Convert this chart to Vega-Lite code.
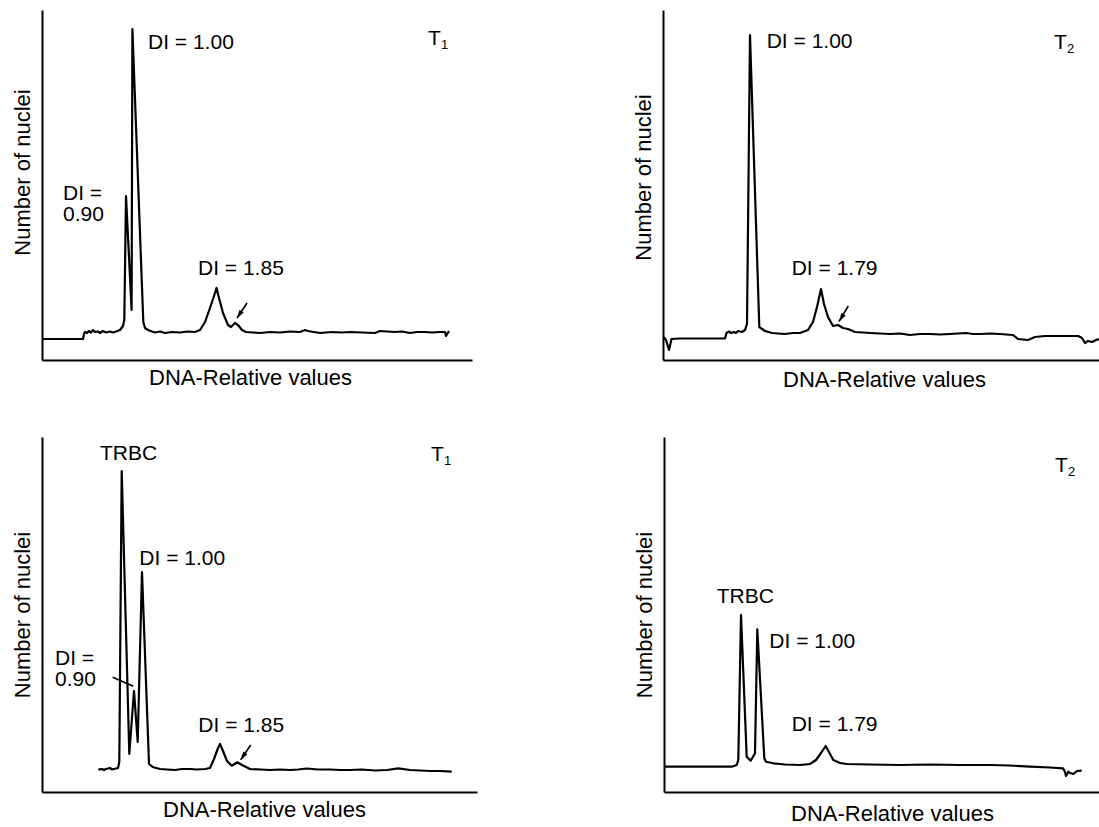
{
  "$schema": "https://vega.github.io/schema/vega-lite/v6.json",
  "padding": {"left": 11, "top": 10, "right": 0, "bottom": 0},
  "background": "white",
  "config": {
    "view": {"stroke": null},
    "axis": {
      "domain": true, "domainColor": "black", "domainWidth": 2,
      "ticks": false, "labels": false, "grid": false,
      "titleFont": "Liberation Sans", "titleFontSize": 22, "titleFontWeight": "normal", "titleColor": "black"
    },
    "axisX": {"titlePadding": 7},
    "axisY": {"titlePadding": 8},
    "text": {"font": "Liberation Sans", "color": "black"}
  },
  "datasets": {
    "trace": [
      {"p":"TL","x":0,"y":21},{"p":"TL","x":41,"y":21},{"p":"TL","x":42,"y":26},{"p":"TL","x":43,"y":28},{"p":"TL","x":45,"y":27},{"p":"TL","x":47,"y":29},{"p":"TL","x":49,"y":27.5},{"p":"TL","x":51,"y":30},{"p":"TL","x":53,"y":28},{"p":"TL","x":56,"y":28.5},{"p":"TL","x":58,"y":27},{"p":"TL","x":61,"y":29},{"p":"TL","x":64,"y":27.5},{"p":"TL","x":68,"y":28.5},{"p":"TL","x":71,"y":27.5},{"p":"TL","x":74,"y":28.5},{"p":"TL","x":78,"y":30},{"p":"TL","x":81,"y":34},{"p":"TL","x":82.3,"y":40},{"p":"TL","x":84,"y":164},{"p":"TL","x":89.6,"y":50},{"p":"TL","x":90.4,"y":331},{"p":"TL","x":101.3,"y":38},{"p":"TL","x":103,"y":32},{"p":"TL","x":106,"y":30},{"p":"TL","x":110,"y":28.5},{"p":"TL","x":113,"y":27.5},{"p":"TL","x":118,"y":28.5},{"p":"TL","x":123,"y":27},{"p":"TL","x":130,"y":28},{"p":"TL","x":138,"y":27.5},{"p":"TL","x":146,"y":28.5},{"p":"TL","x":153,"y":28},{"p":"TL","x":158,"y":30},{"p":"TL","x":163,"y":38},{"p":"TL","x":168,"y":52},{"p":"TL","x":172,"y":64},{"p":"TL","x":174.5,"y":72},{"p":"TL","x":177,"y":62},{"p":"TL","x":181,"y":47},{"p":"TL","x":186,"y":35},{"p":"TL","x":189,"y":33},{"p":"TL","x":193,"y":37},{"p":"TL","x":196,"y":35},{"p":"TL","x":200,"y":30},{"p":"TL","x":204,"y":28},{"p":"TL","x":211,"y":27.5},{"p":"TL","x":218,"y":27},{"p":"TL","x":228,"y":28},{"p":"TL","x":238,"y":27.5},{"p":"TL","x":248,"y":28.5},{"p":"TL","x":258,"y":28},{"p":"TL","x":263,"y":30},{"p":"TL","x":266,"y":29},{"p":"TL","x":272,"y":28},{"p":"TL","x":278,"y":27},{"p":"TL","x":290,"y":28},{"p":"TL","x":300,"y":27.5},{"p":"TL","x":308,"y":28},{"p":"TL","x":320,"y":27.5},{"p":"TL","x":333,"y":27},{"p":"TL","x":338,"y":29},{"p":"TL","x":345,"y":28.5},{"p":"TL","x":353,"y":28},{"p":"TL","x":360,"y":28.5},{"p":"TL","x":368,"y":27},{"p":"TL","x":375,"y":28},{"p":"TL","x":383,"y":28},{"p":"TL","x":390,"y":27.5},{"p":"TL","x":398,"y":28},{"p":"TL","x":403,"y":28},{"p":"TL","x":404,"y":24},{"p":"TL","x":407,"y":29},

      {"p":"TR","x":0.5,"y":23},{"p":"TR","x":3,"y":20},{"p":"TR","x":6,"y":10},{"p":"TR","x":8.5,"y":21},{"p":"TR","x":17,"y":21.5},{"p":"TR","x":62,"y":21.5},{"p":"TR","x":63.5,"y":27},{"p":"TR","x":66,"y":28.5},{"p":"TR","x":68,"y":27},{"p":"TR","x":71,"y":28},{"p":"TR","x":73,"y":27},{"p":"TR","x":75,"y":29},{"p":"TR","x":79,"y":28},{"p":"TR","x":82,"y":30},{"p":"TR","x":84,"y":36},{"p":"TR","x":87,"y":325},{"p":"TR","x":96.3,"y":33},{"p":"TR","x":102,"y":29},{"p":"TR","x":109,"y":27},{"p":"TR","x":115,"y":26.5},{"p":"TR","x":122,"y":26},{"p":"TR","x":130,"y":27},{"p":"TR","x":137,"y":27},{"p":"TR","x":145,"y":30},{"p":"TR","x":150,"y":38},{"p":"TR","x":154,"y":53},{"p":"TR","x":158,"y":71},{"p":"TR","x":161,"y":56},{"p":"TR","x":165,"y":43},{"p":"TR","x":170,"y":34},{"p":"TR","x":175,"y":35},{"p":"TR","x":180,"y":32},{"p":"TR","x":185,"y":31},{"p":"TR","x":192,"y":28},{"p":"TR","x":200,"y":27.5},{"p":"TR","x":207,"y":27},{"p":"TR","x":217,"y":26.5},{"p":"TR","x":227,"y":26},{"p":"TR","x":237,"y":26.5},{"p":"TR","x":247,"y":25},{"p":"TR","x":257,"y":26},{"p":"TR","x":267,"y":26},{"p":"TR","x":277,"y":25.5},{"p":"TR","x":287,"y":26},{"p":"TR","x":295,"y":26.5},{"p":"TR","x":303,"y":27},{"p":"TR","x":310,"y":26},{"p":"TR","x":317,"y":26},{"p":"TR","x":327,"y":26.5},{"p":"TR","x":337,"y":26},{"p":"TR","x":350,"y":25},{"p":"TR","x":355,"y":21},{"p":"TR","x":365,"y":20},{"p":"TR","x":372,"y":23},{"p":"TR","x":382,"y":24},{"p":"TR","x":397,"y":24},{"p":"TR","x":415,"y":24},{"p":"TR","x":419,"y":22},{"p":"TR","x":422,"y":17},{"p":"TR","x":425,"y":19},{"p":"TR","x":429,"y":18},{"p":"TR","x":433,"y":20},{"p":"TR","x":436,"y":21},

      {"p":"BL","x":56.3,"y":22.3},{"p":"BL","x":60,"y":23},{"p":"BL","x":62,"y":22},{"p":"BL","x":64,"y":23},{"p":"BL","x":68,"y":24},{"p":"BL","x":70,"y":22.5},{"p":"BL","x":72,"y":23},{"p":"BL","x":76,"y":24},{"p":"BL","x":77.3,"y":30},{"p":"BL","x":79.7,"y":321},{"p":"BL","x":87.3,"y":38},{"p":"BL","x":92,"y":101},{"p":"BL","x":95.7,"y":50},{"p":"BL","x":100,"y":220},{"p":"BL","x":107,"y":28},{"p":"BL","x":111.3,"y":24.7},{"p":"BL","x":118,"y":23},{"p":"BL","x":125,"y":22.5},{"p":"BL","x":133,"y":22},{"p":"BL","x":140,"y":23},{"p":"BL","x":148,"y":23},{"p":"BL","x":155,"y":22.5},{"p":"BL","x":163,"y":23},{"p":"BL","x":168,"y":24},{"p":"BL","x":172,"y":33},{"p":"BL","x":176,"y":44},{"p":"BL","x":178,"y":48},{"p":"BL","x":181,"y":41},{"p":"BL","x":185,"y":31},{"p":"BL","x":189.7,"y":26.3},{"p":"BL","x":195.3,"y":29.7},{"p":"BL","x":200,"y":27},{"p":"BL","x":208,"y":23},{"p":"BL","x":218,"y":22.5},{"p":"BL","x":228,"y":22},{"p":"BL","x":238,"y":22.5},{"p":"BL","x":248,"y":22},{"p":"BL","x":256,"y":22.5},{"p":"BL","x":264.7,"y":23.5},{"p":"BL","x":276,"y":22.5},{"p":"BL","x":288,"y":22.5},{"p":"BL","x":298,"y":22},{"p":"BL","x":308,"y":22},{"p":"BL","x":320,"y":22.5},{"p":"BL","x":333,"y":21.5},{"p":"BL","x":345,"y":22},{"p":"BL","x":356.3,"y":23.7},{"p":"BL","x":368,"y":22},{"p":"BL","x":378,"y":21.5},{"p":"BL","x":388,"y":21},{"p":"BL","x":398,"y":21},{"p":"BL","x":409.7,"y":20.3},

      {"p":"BR","x":1,"y":25.3},{"p":"BR","x":36,"y":25.3},{"p":"BR","x":67.7,"y":25.3},{"p":"BR","x":72.7,"y":27},{"p":"BR","x":74.3,"y":32},{"p":"BR","x":77,"y":177},{"p":"BR","x":82.7,"y":35.3},{"p":"BR","x":86.7,"y":31.3},{"p":"BR","x":91,"y":38.7},{"p":"BR","x":93.3,"y":162.7},{"p":"BR","x":100.3,"y":33.7},{"p":"BR","x":102,"y":30.3},{"p":"BR","x":109.3,"y":28.7},{"p":"BR","x":121,"y":27.5},{"p":"BR","x":136,"y":27},{"p":"BR","x":146,"y":28},{"p":"BR","x":152,"y":32},{"p":"BR","x":157,"y":39},{"p":"BR","x":161.7,"y":46},{"p":"BR","x":165,"y":40},{"p":"BR","x":169.3,"y":32},{"p":"BR","x":176,"y":29},{"p":"BR","x":182.7,"y":28},{"p":"BR","x":206,"y":27.5},{"p":"BR","x":236,"y":27},{"p":"BR","x":266,"y":27.5},{"p":"BR","x":296,"y":27},{"p":"BR","x":326,"y":27},{"p":"BR","x":346,"y":26.5},{"p":"BR","x":366,"y":25.3},{"p":"BR","x":386,"y":24.5},{"p":"BR","x":399,"y":23.7},{"p":"BR","x":401,"y":20},{"p":"BR","x":402,"y":16},{"p":"BR","x":404.3,"y":20.3},{"p":"BR","x":406,"y":19},{"p":"BR","x":409.3,"y":18},{"p":"BR","x":413,"y":21},{"p":"BR","x":417.7,"y":21.3}
    ],
    "labels": [
      {"p":"TL","x":106,"y":317,"t":"DI = 1.00"},
      {"p":"TL","x":386,"y":321,"t":"T"},
      {"p":"TL","x":21,"y":166,"t":["DI =", "0.90"]},
      {"p":"TL","x":156,"y":91,"t":"DI = 1.85"},
      {"p":"TR","x":103.7,"y":318,"t":"DI = 1.00"},
      {"p":"TR","x":391,"y":317,"t":"T"},
      {"p":"TR","x":128.7,"y":91.3,"t":"DI = 1.79"},
      {"p":"BL","x":58,"y":338,"t":"TRBC"},
      {"p":"BL","x":389,"y":337,"t":"T"},
      {"p":"BL","x":97.3,"y":233,"t":"DI = 1.00"},
      {"p":"BL","x":13,"y":133,"t":["DI =", "0.90"]},
      {"p":"BL","x":156.3,"y":66.3,"t":"DI = 1.85"},
      {"p":"BR","x":391,"y":326,"t":"T"},
      {"p":"BR","x":52.7,"y":195.3,"t":"TRBC"},
      {"p":"BR","x":105.3,"y":150.3,"t":"DI = 1.00"},
      {"p":"BR","x":127.7,"y":67,"t":"DI = 1.79"}
    ],
    "subs": [
      {"p":"TL","x":386,"y":321,"t":"1"},
      {"p":"TR","x":391,"y":317,"t":"2"},
      {"p":"BL","x":389,"y":337,"t":"1"},
      {"p":"BR","x":391,"y":326,"t":"2"}
    ],
    "arrows": [
      {"p":"TL","x":205,"y":57,"x2":195,"y2":42},
      {"p":"TR","x":185.3,"y":54,"x2":176,"y2":38.7},
      {"p":"BL","x":208.7,"y":47,"x2":198.7,"y2":32.3},
      {"p":"BL","x":70.7,"y":114.7,"x2":91.3,"y2":105.7}
    ],
    "heads": [
      {"p":"TL","x":197.2,"y":45.2},
      {"p":"TR","x":178.2,"y":41.9},
      {"p":"BL","x":200.9,"y":35.5}
    ]
  },
  "vconcat": [
    {
      "spacing": 160,
      "hconcat": [
        {
          "width": 430, "height": 350,
          "encoding": {
            "x": {"field": "x", "type": "quantitative", "scale": {"domain": [0, 430], "nice": false, "zero": false}, "axis": {"title": "DNA-Relative values", "titleX": 208}},
            "y": {"field": "y", "type": "quantitative", "scale": {"domain": [0, 350], "nice": false, "zero": false}, "axis": {"title": "Number of nuclei", "titleY": 162}}
          },
          "layer": [
            {"data": {"name": "trace"}, "transform": [{"filter": "datum.p === 'TL'"}], "mark": {"type": "line", "stroke": "black", "strokeWidth": 2.2, "strokeJoin": "round"}},
            {"data": {"name": "labels"}, "transform": [{"filter": "datum.p === 'TL'"}], "mark": {"type": "text", "align": "left", "baseline": "middle", "fontSize": 21, "lineHeight": 21}, "encoding": {"text": {"field": "t"}}},
            {"data": {"name": "subs"}, "transform": [{"filter": "datum.p === 'TL'"}], "mark": {"type": "text", "align": "left", "baseline": "middle", "fontSize": 13, "dx": 13, "dy": 6}, "encoding": {"text": {"field": "t"}}},
            {"data": {"name": "arrows"}, "transform": [{"filter": "datum.p === 'TL'"}], "mark": {"type": "rule", "color": "black", "strokeWidth": 1.6}, "encoding": {"x2": {"field": "x2"}, "y2": {"field": "y2"}}},
            {"data": {"name": "heads"}, "transform": [{"filter": "datum.p === 'TL'"}], "mark": {"type": "point", "shape": "M0,-1L0.55,1L-0.55,1Z", "filled": true, "size": 80, "angle": 213, "fill": "black", "stroke": null, "opacity": 1}}
          ]
        },
        {
          "width": 436, "height": 350,
          "encoding": {
            "x": {"field": "x", "type": "quantitative", "scale": {"domain": [0, 436], "nice": false, "zero": false}, "axis": {"title": "DNA-Relative values", "titleX": 221, "titlePadding": 9}},
            "y": {"field": "y", "type": "quantitative", "scale": {"domain": [0, 350], "nice": false, "zero": false}, "axis": {"title": "Number of nuclei", "titleY": 167}}
          },
          "layer": [
            {"data": {"name": "trace"}, "transform": [{"filter": "datum.p === 'TR'"}], "mark": {"type": "line", "stroke": "black", "strokeWidth": 2.2, "strokeJoin": "round"}},
            {"data": {"name": "labels"}, "transform": [{"filter": "datum.p === 'TR'"}], "mark": {"type": "text", "align": "left", "baseline": "middle", "fontSize": 21, "lineHeight": 21}, "encoding": {"text": {"field": "t"}}},
            {"data": {"name": "subs"}, "transform": [{"filter": "datum.p === 'TR'"}], "mark": {"type": "text", "align": "left", "baseline": "middle", "fontSize": 13, "dx": 13, "dy": 6}, "encoding": {"text": {"field": "t"}}},
            {"data": {"name": "arrows"}, "transform": [{"filter": "datum.p === 'TR'"}], "mark": {"type": "rule", "color": "black", "strokeWidth": 1.6}, "encoding": {"x2": {"field": "x2"}, "y2": {"field": "y2"}}},
            {"data": {"name": "heads"}, "transform": [{"filter": "datum.p === 'TR'"}], "mark": {"type": "point", "shape": "M0,-1L0.55,1L-0.55,1Z", "filled": true, "size": 80, "angle": 211, "fill": "black", "stroke": null, "opacity": 1}}
          ]
        }
      ]
    },
    {
      "spacing": 156,
      "hconcat": [
        {
          "width": 435, "height": 355,
          "encoding": {
            "x": {"field": "x", "type": "quantitative", "scale": {"domain": [0, 435], "nice": false, "zero": false}, "axis": {"title": "DNA-Relative values", "titleX": 222}},
            "y": {"field": "y", "type": "quantitative", "scale": {"domain": [0, 355], "nice": false, "zero": false}, "axis": {"title": "Number of nuclei"}}
          },
          "layer": [
            {"data": {"name": "trace"}, "transform": [{"filter": "datum.p === 'BL'"}], "mark": {"type": "line", "stroke": "black", "strokeWidth": 2.2, "strokeJoin": "round"}},
            {"data": {"name": "labels"}, "transform": [{"filter": "datum.p === 'BL'"}], "mark": {"type": "text", "align": "left", "baseline": "middle", "fontSize": 21, "lineHeight": 21}, "encoding": {"text": {"field": "t"}}},
            {"data": {"name": "subs"}, "transform": [{"filter": "datum.p === 'BL'"}], "mark": {"type": "text", "align": "left", "baseline": "middle", "fontSize": 13, "dx": 13, "dy": 6}, "encoding": {"text": {"field": "t"}}},
            {"data": {"name": "arrows"}, "transform": [{"filter": "datum.p === 'BL'"}], "mark": {"type": "rule", "color": "black", "strokeWidth": 1.6}, "encoding": {"x2": {"field": "x2"}, "y2": {"field": "y2"}}},
            {"data": {"name": "heads"}, "transform": [{"filter": "datum.p === 'BL'"}], "mark": {"type": "point", "shape": "M0,-1L0.55,1L-0.55,1Z", "filled": true, "size": 80, "angle": 214, "fill": "black", "stroke": null, "opacity": 1}}
          ]
        },
        {
          "width": 435, "height": 355,
          "encoding": {
            "x": {"field": "x", "type": "quantitative", "scale": {"domain": [0, 435], "nice": false, "zero": false}, "axis": {"title": "DNA-Relative values", "titleX": 228, "titlePadding": 11}},
            "y": {"field": "y", "type": "quantitative", "scale": {"domain": [0, 355], "nice": false, "zero": false}, "axis": {"title": "Number of nuclei"}}
          },
          "layer": [
            {"data": {"name": "trace"}, "transform": [{"filter": "datum.p === 'BR'"}], "mark": {"type": "line", "stroke": "black", "strokeWidth": 2.2, "strokeJoin": "round"}},
            {"data": {"name": "labels"}, "transform": [{"filter": "datum.p === 'BR'"}], "mark": {"type": "text", "align": "left", "baseline": "middle", "fontSize": 21}, "encoding": {"text": {"field": "t"}}},
            {"data": {"name": "subs"}, "transform": [{"filter": "datum.p === 'BR'"}], "mark": {"type": "text", "align": "left", "baseline": "middle", "fontSize": 13, "dx": 13, "dy": 6}, "encoding": {"text": {"field": "t"}}}
          ]
        }
      ]
    }
  ],
  "spacing": 47
}
